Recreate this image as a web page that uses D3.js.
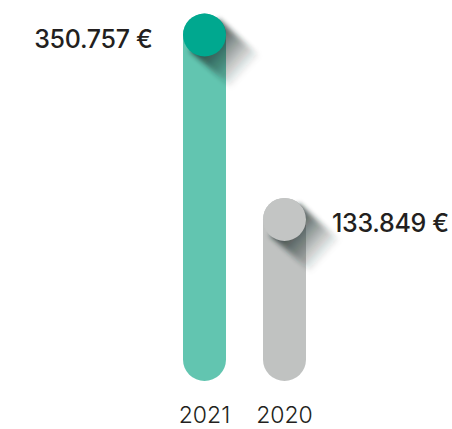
<!DOCTYPE html>
<html>
<head>
<meta charset="utf-8">
<script src="https://cdn.jsdelivr.net/npm/d3@7"></script>
<style>
	html,body{margin:0;padding:0;background:#fff;}
	svg{display:block;}
</style>
</head>
<body>
<div id="chart"></div>
<script>
// Data
var years = ['2021','2020'];
var amounts = [350757, 133849];
var amountLabels = ['350.757 €','133.849 €'];
var barColors = ['#62c5b0','#c0c2c1'];
var dotColors = ['#00a88f','#c3c5c4'];

(function(){
	var W = 452, H = 429;
	var r = 21.5;
	var bottom = 381;

	var svg = d3.select('#chart').append('svg')
		.attr('width',W)
		.attr('height',H);

	var defs = svg.append('defs');

	// long shadow gradient + blur
	var grad = defs.append('linearGradient')
		.attr('id','shadowGrad')
		.attr('x1','0').attr('y1','0').attr('x2','1').attr('y2','0');
	grad.append('stop').attr('offset','0%').attr('stop-color','#1a2a28').attr('stop-opacity',0.9);
	grad.append('stop').attr('offset','45%').attr('stop-color','#1a2a28').attr('stop-opacity',0.5);
	grad.append('stop').attr('offset','100%').attr('stop-color','#1a2a28').attr('stop-opacity',0);

	defs.append('filter')
		.attr('id','shadowBlur')
		.attr('x','-50%').attr('y','-50%').attr('width','200%').attr('height','200%')
		.append('feGaussianBlur')
		.attr('stdDeviation',2.5);

	var x = d3.scalePoint()
		.domain(years)
		.range([204.5, 284.5]);

	// circle centre position
	var y = d3.scaleLinear()
		.domain([0, d3.max(amounts)])
		.range([333.3, 35]);

	var entries = years.map(function(yr,i){
		return {year:yr, value:amounts[i], label:amountLabels[i], bar:barColors[i], dot:dotColors[i]};
	});

	var g = svg.selectAll('g.bar')
		.data(entries)
		.enter()
		.append('g')
		.attr('class','bar');

	// bars
	g.append('rect')
		.attr('x',function(d){ return x(d.year) - r; })
		.attr('y',function(d){ return y(d.value) - r; })
		.attr('width',2*r)
		.attr('height',function(d){ return bottom - (y(d.value) - r); })
		.attr('rx',r)
		.attr('fill',function(d){ return d.bar; });

	// long shadow
	g.append('rect')
		.attr('x',0)
		.attr('y',-r)
		.attr('width',56)
		.attr('height',2*r)
		.attr('fill','url(#shadowGrad)')
		.attr('filter','url(#shadowBlur)')
		.attr('transform',function(d){
			return 'translate('+x(d.year)+','+y(d.value)+') rotate(42)';
		});

	// dots
	g.append('circle')
		.attr('cx',function(d){ return x(d.year); })
		.attr('cy',function(d){ return y(d.value); })
		.attr('r',r)
		.attr('fill',function(d){ return d.dot; });

	// value labels
	g.append('text')
		.attr('x',function(d,i){ return i===0 ? x(d.year) - 52 : x(d.year) + 47.5; })
		.attr('y',function(d){ return y(d.value) + 12.5; })
		.attr('text-anchor',function(d,i){ return i===0 ? 'end' : 'start'; })
		.attr('font-family','Inter, sans-serif')
		.attr('font-weight',500)
		.attr('font-size',25)
		.attr('letter-spacing',-0.3)
		.attr('fill','#231f20')
		.text(function(d){ return d.label; });

	// year labels
	g.append('text')
		.attr('x',function(d){ return x(d.year); })
		.attr('y',423)
		.attr('text-anchor','middle')
		.attr('font-family','Inter, sans-serif')
		.attr('font-weight',300)
		.attr('font-size',23)
		.attr('fill','#231f20')
		.text(function(d){ return d.year; });
})();
</script>
</body>
</html>
